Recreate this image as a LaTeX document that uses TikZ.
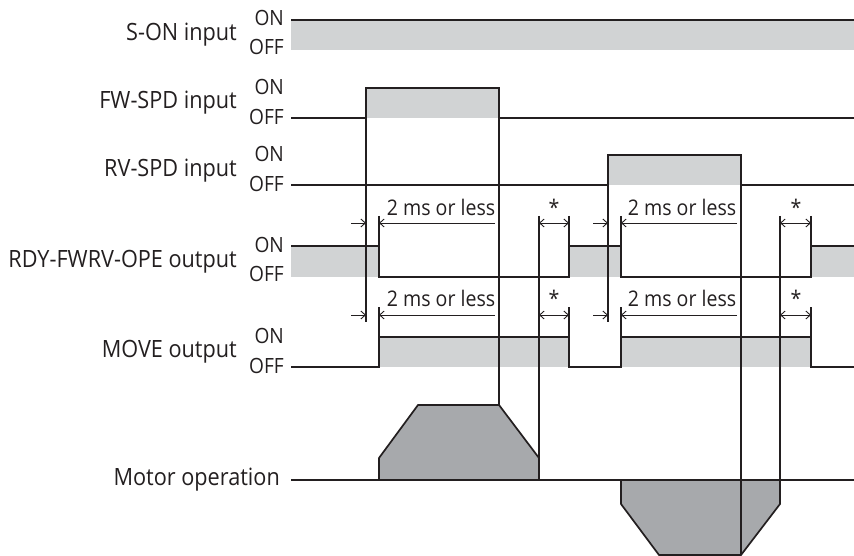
\documentclass[tikz,border=0pt]{standalone}
\usepackage{fontspec}
\setmainfont{Open Sans}[FakeStretch=0.91]
\usetikzlibrary{arrows.meta}
\definecolor{ln}{HTML}{231F20}
\definecolor{lg}{HTML}{D1D3D4}
\definecolor{dg}{HTML}{A7A9AC}
\begin{document}
\begin{tikzpicture}[x=1pt,y=-1pt,
  sig/.style={draw=ln, line width=1.7pt, line join=miter},
  lgfill/.style={fill=lg},
  mot/.style={fill=dg, draw=ln, line width=1.7pt, line join=miter},
  vref/.style={draw=ln, line width=1.1pt},
  dimarr/.style={draw=ln, line width=0.9pt, -{Straight Barb[length=4.5pt,width=8pt]}},
  dimboth/.style={draw=ln, line width=0.9pt, {Straight Barb[length=4.5pt,width=8pt]}-{Straight Barb[length=4.5pt,width=8pt]}},
  lbl/.style={anchor=east, font=\fontsize{23.8}{26}\selectfont, text=ln, inner sep=0pt},
  st/.style={anchor=east, font=\fontsize{21}{23}\selectfont, text=ln, inner sep=0pt},
  dimtxt/.style={anchor=base, font=\fontsize{21.5}{24}\selectfont, text=ln, inner sep=0pt}]
\useasboundingbox (0,0) rectangle (854,556);
% ---- gray fills
\fill[lgfill] (291,20) rectangle (854,50);
\fill[lgfill] (366,88) rectangle (499,118);
\fill[lgfill] (608,155) rectangle (741,185);
\fill[lgfill] (291,246) rectangle (379,277);
\fill[lgfill] (569,246) rectangle (621,277);
\fill[lgfill] (811,246) rectangle (854,277);
\fill[lgfill] (379,337) rectangle (569,367);
\fill[lgfill] (621,337) rectangle (811,367);
% ---- motor
\path[mot] (379,480) -- (379,458) -- (418,405) -- (499,405) -- (539,458) -- (539,480);
\path[mot] (621,480) -- (621,504) -- (659,555) -- (741,555) -- (780,504) -- (780,480);
\draw[sig] (291,480) -- (854,480);
% ---- reference lines
\draw[vref] (366,88) -- (366,322);
\draw[vref] (499,118) -- (499,405);
\draw[vref] (539,216) -- (539,458);
\draw[vref] (379,216) -- (379,246);
\draw[vref] (569,216) -- (569,246);
\draw[vref] (379,307) -- (379,337);
\draw[vref] (569,307) -- (569,337);
\draw[vref] (608,185) -- (608,322);
\draw[vref] (621,216) -- (621,246);
\draw[vref] (621,307) -- (621,337);
\draw[vref] (741,185) -- (741,555);
\draw[vref] (780,216) -- (780,504);
\draw[vref] (811,216) -- (811,246);
\draw[vref] (811,307) -- (811,337);
% ---- signals
\draw[sig] (291,20) -- (854,20);
\draw[sig] (291,118) -- (366,118) -- (366,88) -- (499,88) -- (499,118) -- (854,118);
\draw[sig] (291,185) -- (608,185) -- (608,155) -- (741,155) -- (741,185) -- (854,185);
\draw[sig] (291,246) -- (379,246) -- (379,277) -- (569,277) -- (569,246) -- (621,246) -- (621,277) -- (811,277) -- (811,246) -- (854,246);
\draw[sig] (291,367) -- (379,367) -- (379,337) -- (569,337) -- (569,367) -- (621,367) -- (621,337) -- (811,337) -- (811,367) -- (854,367);
% ---- dimension arrows
\foreach \yy in {223,315} {
  \draw[dimarr] (351,\yy) -- (366,\yy);
  \draw[dimarr] (495,\yy) -- (379,\yy);
  \draw[dimboth] (539,\yy) -- (569,\yy);
  \draw[dimarr] (593,\yy) -- (608,\yy);
  \draw[dimarr] (737,\yy) -- (621,\yy);
  \draw[dimboth] (780,\yy) -- (811,\yy);
}
\node[dimtxt] (t1) at (441,215) {2 ms or less};
\node[dimtxt] (t2) at (682,215) {2 ms or less};
\node[dimtxt] (s1) at (554,215) {*};
\node[dimtxt] (s2) at (796,215) {*};
\node[dimtxt] (t3) at (441,306) {2 ms or less};
\node[dimtxt] (t4) at (682,306) {2 ms or less};
\node[dimtxt] (s3) at (554,306) {*};
\node[dimtxt] (s4) at (796,306) {*};
% ---- labels
\node[lbl] (lson) at (237,35) {S-ON input};
\node[lbl] (lfw) at (237,103) {FW-SPD input};
\node[lbl] (lrv) at (237,171) {RV-SPD input};
\node[lbl] (lrdy) at (237,262) {RDY-FWRV-OPE output};
\node[lbl] (lmove) at (237,352) {MOVE output};
\node[lbl] (lmot) at (280,480) {Motor operation};
\foreach \n/\on/\off in {a/18/47, b/87/117, c/154/184, d/245/274, e/336/366} {
  \node[st] (on\n) at (284,\on) {ON};
  \node[st] (off\n) at (284,\off) {OFF};
}
\end{tikzpicture}
\end{document}
